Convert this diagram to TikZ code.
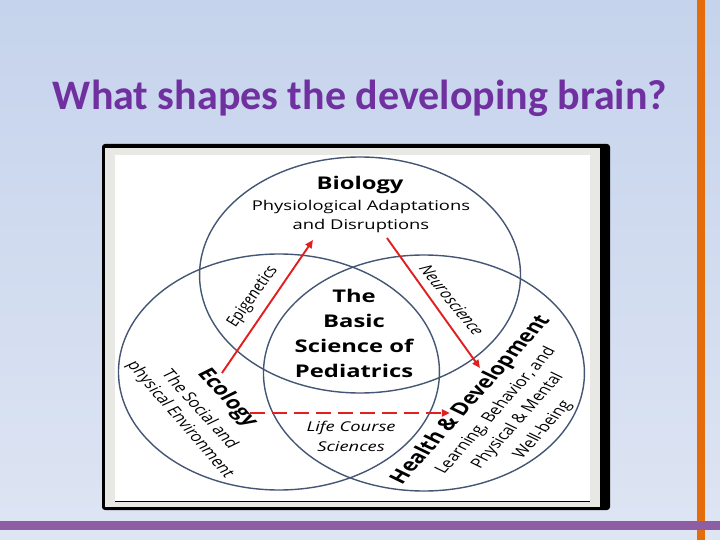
\documentclass[tikz,border=0pt]{standalone}
\usepackage{fontspec}
\setmainfont{Open Sans}
\newfontfamily\titlefont{Carlito}
\usetikzlibrary{arrows.meta}
\definecolor{slidetop}{RGB}{197,211,236}
\definecolor{slidebottom}{RGB}{222,229,243}
\definecolor{titlepurple}{RGB}{112,48,160}
\definecolor{barpurple}{RGB}{142,94,164}
\definecolor{barorange}{RGB}{228,108,10}
\definecolor{ringblue}{RGB}{68,86,116}
\definecolor{arrowred}{RGB}{226,30,30}
\definecolor{framegray}{RGB}{232,232,228}
\tikzset{
    venn-ring/.style = {draw=ringblue, line width=1.4pt, circle, minimum size=236pt, inner sep=0pt},
    red-arrow/.style = {draw=arrowred, line width=1.9pt, -{Triangle[length=8pt,width=7pt]}},
    bold-label/.style = {font=\bfseries\fontsize{17.5}{25}\selectfont, align=center, inner sep=0pt},
    plain-label/.style = {font=\fontsize{13.5}{19}\selectfont, align=center, inner sep=0pt},
    slant-label/.style = {font=\itshape\fontsize{13.5}{20}\selectfont, align=center, inner sep=0pt},
}

\begin{document}
\begin{tikzpicture}[x=1pt,y=-1pt]
\useasboundingbox (0,0) rectangle (720,540);
% slide background
\fill[top color=slidetop, bottom color=slidebottom] (0,0) rectangle (720,540);
\fill[barorange] (697,0) rectangle (705,540);
\fill[barpurple] (0,521) rectangle (720,530);
\node[font=\titlefont\bfseries\fontsize{42}{46}\selectfont, text=titlepurple, anchor=base] (title) at (360,110) {What shapes the developing brain?};
% picture frame
\fill[black, rounded corners=3pt] (102,144) rectangle (610,510);
\fill[framegray] (105,148) rectangle (600,507);
\fill[white] (115,155) rectangle (590,501);
\draw[black, line width=1pt] (115,501) -- (590,501);
% the pasted figure is stretched sideways
\begin{scope}[xshift=352pt, xscale=1.36, transform shape]
\node[venn-ring] (bio) at (5.9,275) {};
\node[venn-ring] (eco) at (-53.7,372) {};
\node[venn-ring] (hd) at (52.9,373) {};
% texts
\node[bold-label] (biology) at (5.9,185) {Biology};
\node[plain-label] (physio) at (6.6,216) {Physiological Adaptations\\and Disruptions};
\node[bold-label] (basic) at (1.5,333) {The\\Basic\\Science of\\Pediatrics};
\node[slant-label] (lifecourse) at (-0.7,436) {Life Course\\Sciences};
\node[slant-label, rotate=62] (epi) at (-72.8,297) {Epigenetics};
\node[slant-label, rotate=-59] (neuro) at (73.5,300) {Neuroscience};
\node[bold-label, rotate=-56] (ecology) at (-91.9,398) {Ecology};
\node[plain-label, rotate=-56.5] (social) at (-111,409) {The Social and};
\node[plain-label, rotate=-57.5] (physenv) at (-126.5,420) {physical Environment};
\node[bold-label, rotate=56.5] (health) at (87.5,400) {Health \& Development};
\node[plain-label, rotate=56.5] (learning) at (105.9,411) {Learning, Behavior, and};
\node[plain-label, rotate=56.5] (mental) at (122,421) {Physical \& Mental};
\node[plain-label, rotate=56.5] (wellbeing) at (140.4,430) {Well-being};
% arrows
\coordinate (epi-start) at (-95.6,373);
\coordinate (epi-end) at (-28.7,240);
\coordinate (neuro-start) at (25.7,238);
\coordinate (neuro-end) at (94.1,368);
\coordinate (life-start) at (-75,413);
\coordinate (life-end) at (72,413);
\draw[red-arrow] (epi-start) -- (epi-end);
\draw[red-arrow] (neuro-start) -- (neuro-end);
\draw[red-arrow, dash pattern=on 15pt off 7pt] (life-start) -- (life-end);
\end{scope}
\end{tikzpicture}
\end{document}
